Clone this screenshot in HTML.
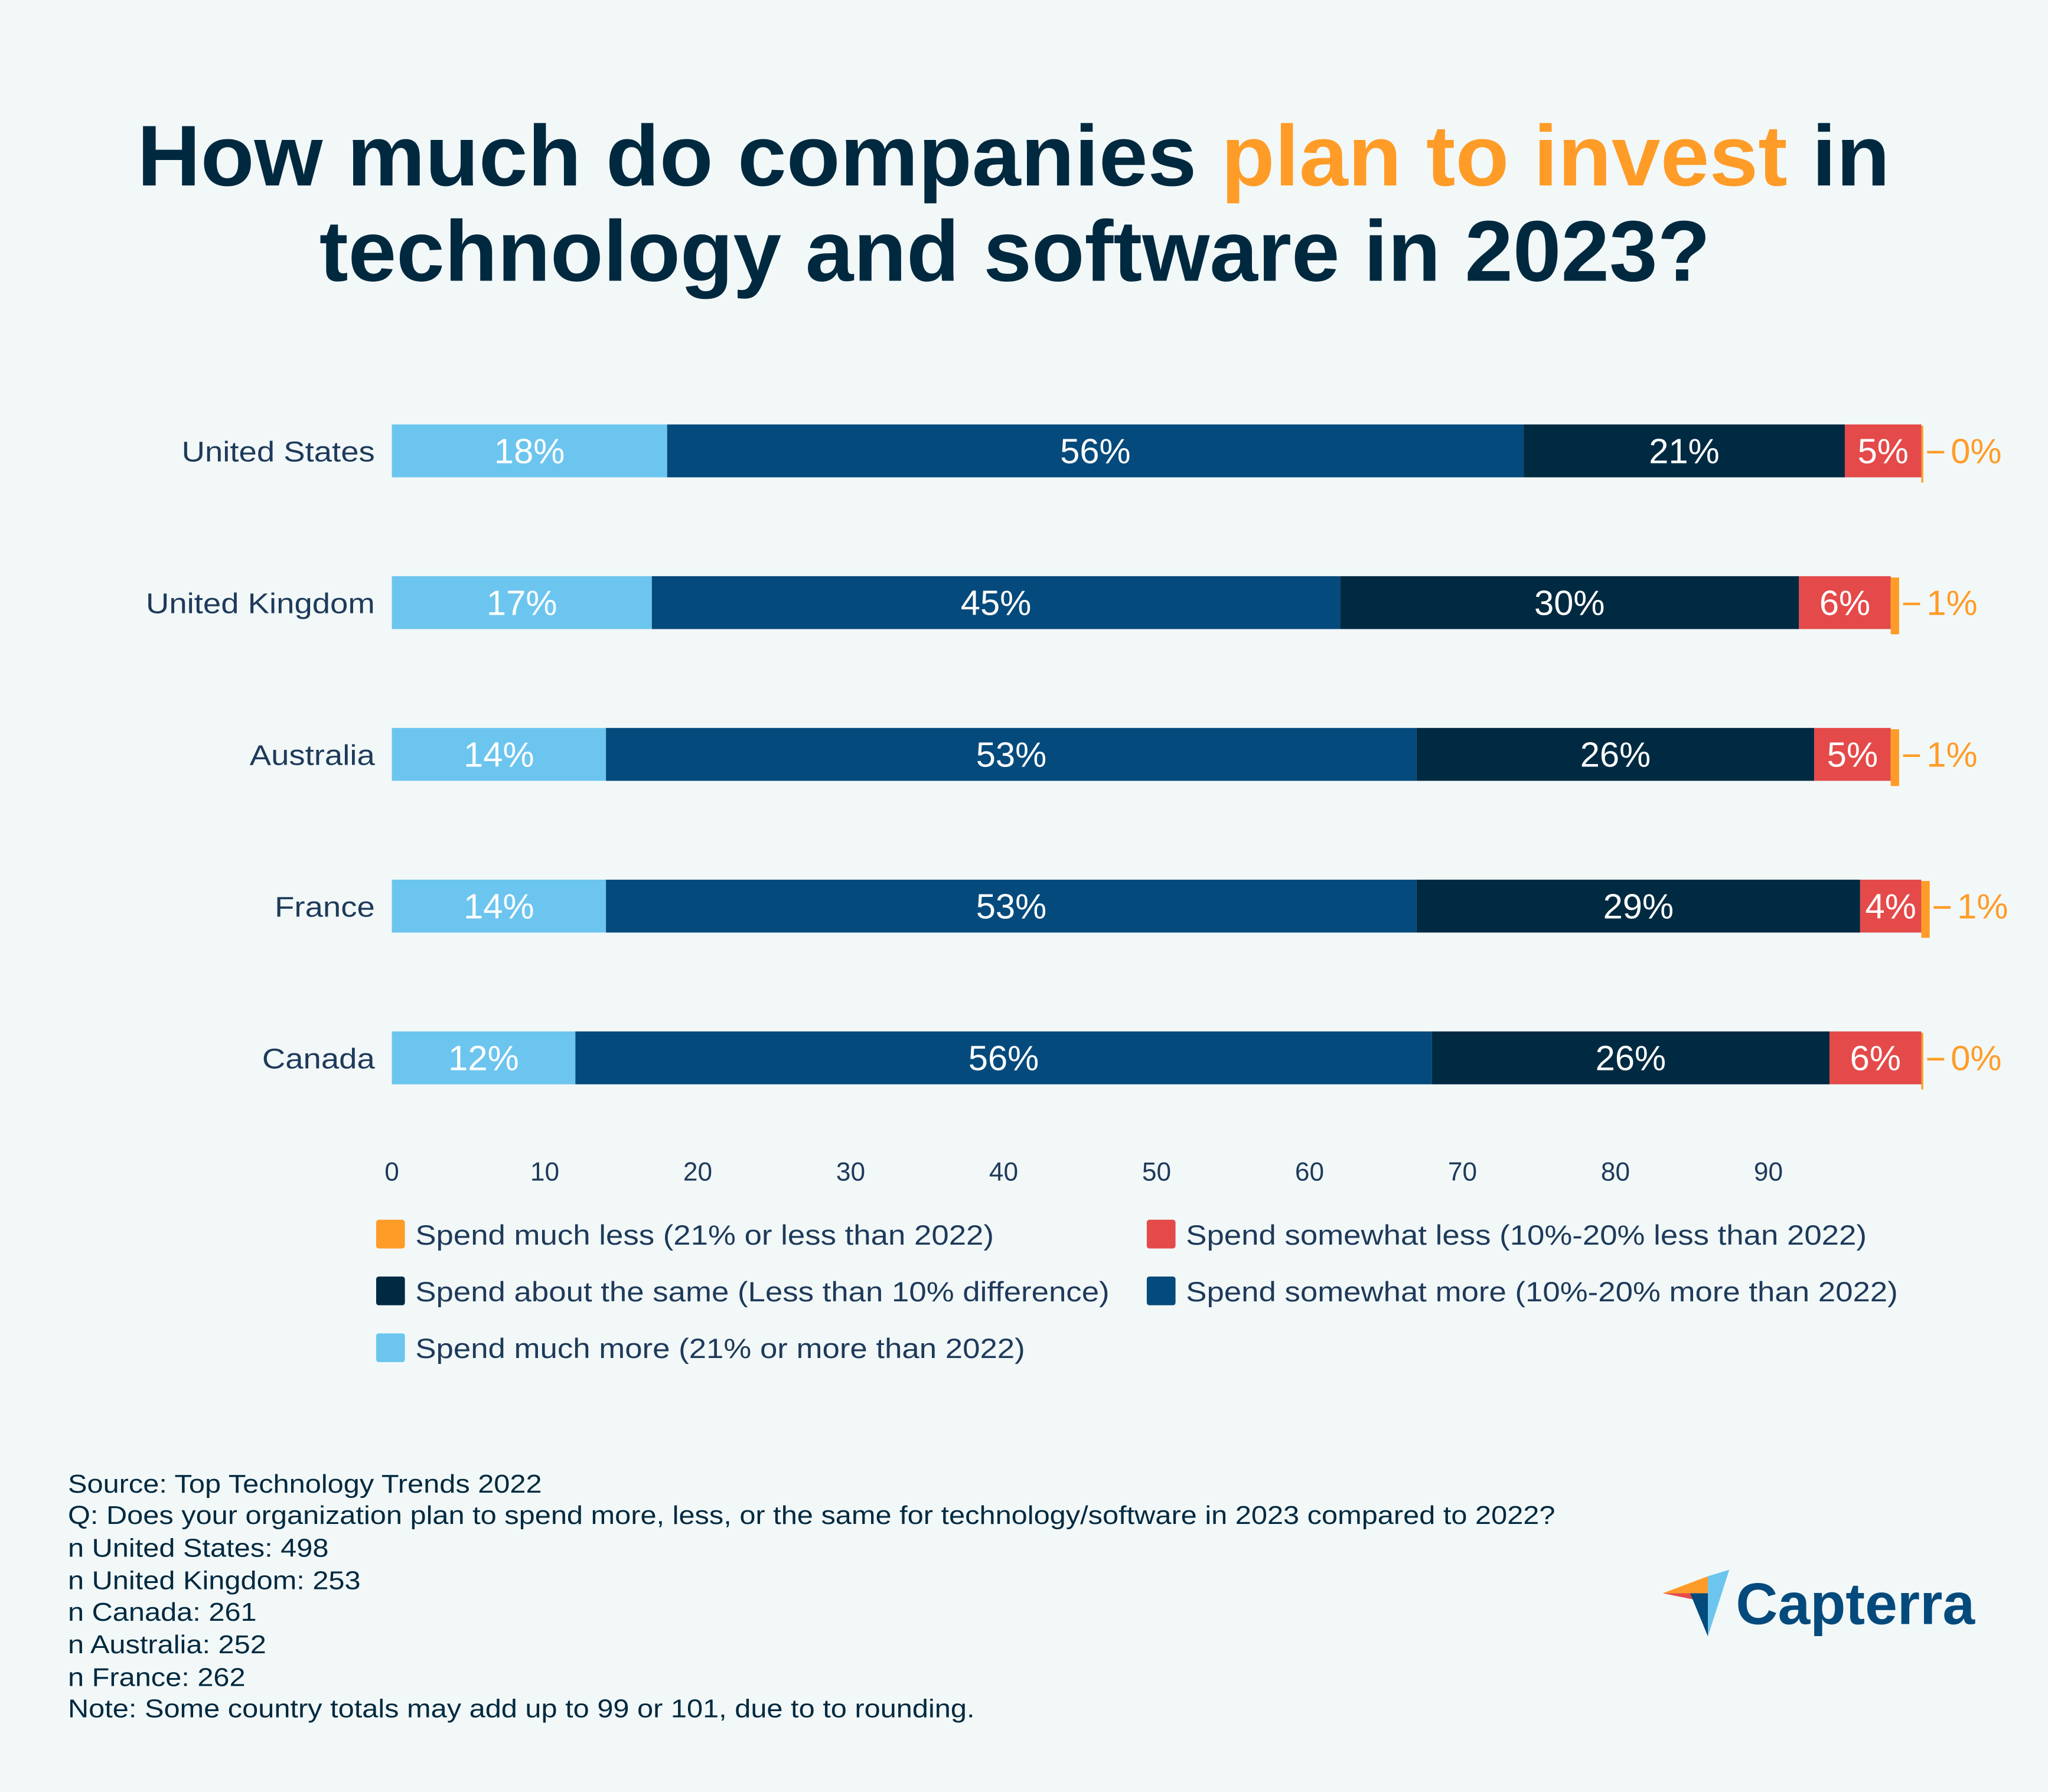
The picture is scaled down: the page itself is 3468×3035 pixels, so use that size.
<!DOCTYPE html>
<html><head><meta charset="utf-8"><style>
html,body{margin:0;padding:0;background:#f2f8f8;}
svg{display:block;font-family:"Liberation Sans",sans-serif;}
</style></head><body>
<svg id="chart" width="3468" height="3035" viewBox="0 0 1568 1372.2" xmlns="http://www.w3.org/2000/svg">
<rect width="1568" height="1372.2" fill="#f2f8f8"/>
<g font-weight="bold" font-size="66" fill="#00293f" text-anchor="middle">
<text x="776" y="142" textLength="1342" lengthAdjust="spacingAndGlyphs">How much do companies <tspan fill="#ff9c28">plan to invest</tspan> in</text>
<text x="777" y="215" textLength="1065" lengthAdjust="spacingAndGlyphs">technology and software in 2023?</text>
</g>
<g id="bars"></g>
<g id="axis"></g>
<g id="legend"></g>
<g font-size="19.5" fill="#00293f" transform="translate(52,0) scale(1.13,1) translate(-52,0)">
<text x="52" y="1143">Source: Top Technology Trends 2022</text>
<text x="52" y="1167">Q: Does your organization plan to spend more, less, or the same for technology/software in 2023 compared to 2022?</text>
<text x="52" y="1192">n United States: 498</text>
<text x="52" y="1217">n United Kingdom: 253</text>
<text x="52" y="1241">n Canada:  261</text>
<text x="52" y="1266">n Australia: 252</text>
<text x="52" y="1291">n France: 262</text>
<text x="52" y="1315">Note: Some country totals may add up to 99 or 101, due to to rounding.</text>
</g>
<g>
<polygon points="1273,1220 1307.6,1207 1307.6,1220" fill="#ff9c28"/>
<polygon points="1307.6,1207 1324,1202 1307.6,1253" fill="#6cc5ee"/>
<polygon points="1273,1220 1294,1220 1297.6,1225" fill="#e44a4a"/>
<polygon points="1294,1220 1307.6,1220 1307.6,1253" fill="#054a7c"/>
<text x="1329" y="1243.5" font-size="45" font-weight="bold" fill="#054a7c" textLength="183" lengthAdjust="spacingAndGlyphs">Capterra</text>
</g>
</svg>
<script>
const countries = ["United States","United Kingdom","Australia","France","Canada"];
const muchMore = [18,17,14,14,12];
const somewhatMore = [56,45,53,53,56];
const aboutSame = [21,30,26,29,26];
const somewhatLess = [5,6,5,4,6];
const muchLess = [0,1,1,1,0];
const ticks = [0,10,20,30,40,50,60,70,80,90];
const seriesNames = ["Spend much less (21% or less than 2022)","Spend somewhat less (10%-20% less than 2022)","Spend about the same (Less than 10% difference)","Spend somewhat more (10%-20% more than 2022)","Spend much more (21% or more than 2022)"];

const NS="http://www.w3.org/2000/svg";
const X0=300, UNIT=11.71;
const xs=v=>X0+v*UNIT;
const rowTop=i=>325+i*116.2;
const BH=40.5;
function mk(tag,attrs,parent){const e=document.createElementNS(NS,tag);for(const k in attrs)e.setAttribute(k,attrs[k]);parent.appendChild(e);return e;}
const bars=document.getElementById('bars');
const colors=["#6cc5ee","#054a7c","#002a42","#e44a4a"];
const series=[muchMore,somewhatMore,aboutSame,somewhatLess];
const snames=["much-more","somewhat-more","about-same","somewhat-less"];
countries.forEach((c,i)=>{
  const y=rowTop(i);
  const lab=mk('text',{x:287,y:y+BH/2+8,'text-anchor':'end','font-size':22,fill:'#1e3a5a',transform:'translate(287,0) scale(1.12,1) translate(-287,0)'},bars);
  lab.textContent=c;
  
  
  let acc=0;
  series.forEach((s,k)=>{
    const v=s[i];
    const r=mk('rect',{x:xs(acc),y:y,width:v*UNIT,height:BH,fill:colors[k]},bars);
    
    
    const t=mk('text',{x:xs(acc+v/2),y:y+BH/2+9.5,'text-anchor':'middle','font-size':27,fill:'#fff'},bars);
    t.textContent=v+'%';
    
    
    acc+=v;
  });
  const v=muchLess[i];
  const w=Math.max(v*UNIT*0.55,1.5);
  const ob=mk('rect',{x:xs(acc),y:y+1,width:w,height:BH+3,fill:'#ff9c28'},bars);
  
  
  const ex=xs(acc)+w;
  const ln=mk('line',{x1:ex+3,x2:ex+16,y1:y+BH/2+1,y2:y+BH/2+1,stroke:'#ff9c28','stroke-width':2},bars);
  
  
  const ot=mk('text',{x:ex+21,y:y+BH/2+9.5,'font-size':27,fill:'#ff9c28'},bars);
  ot.textContent=v+'%';
  
  
});
const axis=document.getElementById('axis');
ticks.forEach(t=>{
  const e=mk('text',{x:xs(t),y:904,'text-anchor':'middle','font-size':20,fill:'#1e3a5a'},axis);
  e.textContent=t;
  
  
});
const legend=document.getElementById('legend');
const lcols=["#ff9c28","#e44a4a","#002a42","#054a7c","#6cc5ee"];
seriesNames.forEach((n,k)=>{
  const cx=k%2===0?288:878, cy=945+Math.floor(k/2)*43.5;
  const sq=mk('rect',{x:cx,y:cy-11,width:22,height:22,rx:2,fill:lcols[k]},legend);
  
  
  const tx=mk('text',{x:cx+30,y:cy+8,'font-size':21.5,fill:'#1e3a5a',transform:'translate('+(cx+30)+',0) scale(1.11,1) translate('+(-(cx+30))+',0)'},legend);
  tx.textContent=n;
  
  
});
</script>
</body></html>
